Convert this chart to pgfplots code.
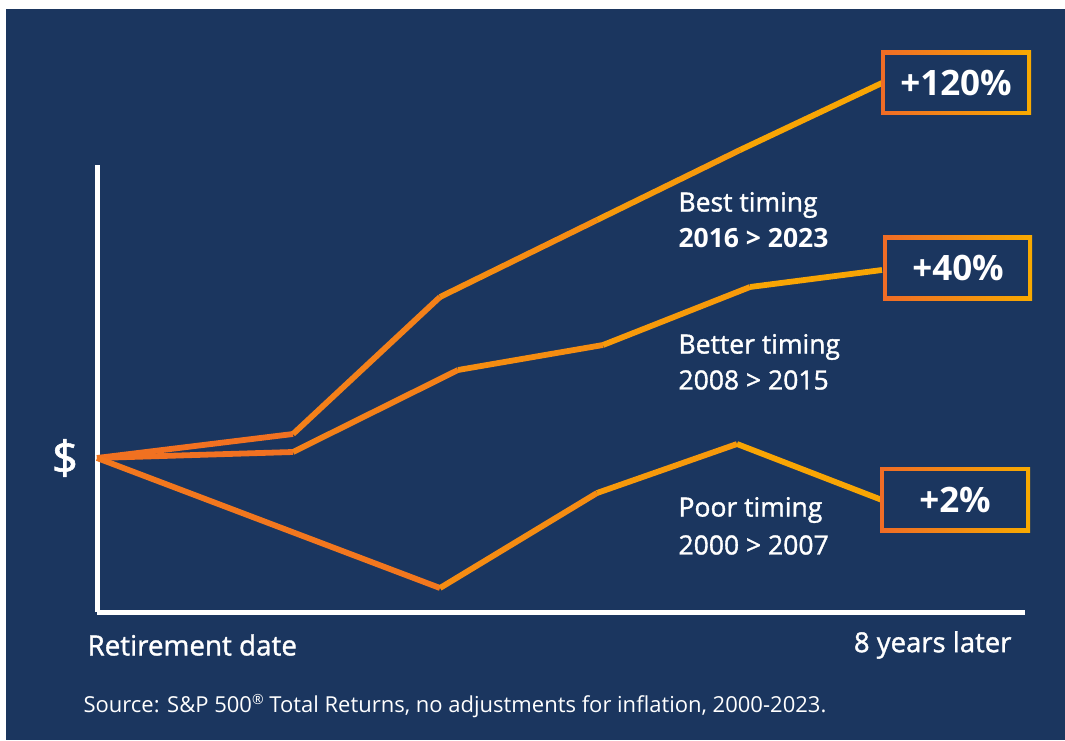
\documentclass[border=0pt]{standalone}
\usepackage{pgfplots}
\pgfplotsset{compat=1.18}
\usepackage{fontspec}
\setmainfont{Open Sans}
\newfontfamily\semi[FakeBold=1.3]{Open Sans}
\definecolor{navy}{RGB}{27,54,95}
\definecolor{og}{RGB}{240,108,38}
\definecolor{amb}{RGB}{248,170,0}
\begin{document}
\begin{tikzpicture}[x=1pt,y=1pt]
\fill[white] (0,0) rectangle (1065,740);
\fill[navy] (6,0) rectangle (1065,731);
\begin{axis}[
  at={(97pt,128pt)}, anchor=south west,
  scale only axis, width=928pt, height=447pt,
  xmin=97, xmax=1025, ymin=128, ymax=575,
  enlargelimits=false, clip=false,
  axis x line=bottom, axis y line=left,
  axis line style={white, line width=5pt, -},
  xtick=\empty, ytick=\empty,
  colormap={ogmap}{rgb255=(240,105,38) rgb255=(249,172,0)},
  point meta min=97, point meta max=900,
]
\addplot[mesh, point meta=x, line width=5.8pt, line join=miter] coordinates {
 (97,282) (293,306) (440,443) (597,520) (740,590) (882,657)};
\addplot[mesh, point meta=x, line width=5.8pt, line join=miter] coordinates {
 (97,282) (293,288) (458,370) (603,395) (750,453) (882,470)};
\addplot[mesh, point meta=x, line width=5.8pt, line join=miter] coordinates {
 (97,282) (440,152) (597,247) (737,296) (882,240)};

% boxes
\shade[left color=og, right color=amb] (881,625) rectangle (1031,689);
\fill[navy] (885,629) rectangle (1027,685);
\node[text=white, font=\fontsize{35}{38}\selectfont\bfseries] at (956,657) {+120\%};
\shade[left color=og, right color=amb] (883,440) rectangle (1032,504);
\fill[navy] (887,444) rectangle (1028,500);
\node[text=white, font=\fontsize{35}{38}\selectfont\bfseries] at (958,472) {+40\%};
\shade[left color=og, right color=amb] (880,208) rectangle (1030,273);
\fill[navy] (884,212) rectangle (1026,269);
\node[text=white, font=\fontsize{35}{38}\selectfont\bfseries] at (955,240) {+2\%};

% labels
\node[text=white, anchor=west, font=\fontsize{26.5}{30}\semi] at (675,535) {Best timing};
\node[text=white, anchor=west, font=\fontsize{26.5}{30}\selectfont\bfseries] at (675,502) {2016 > 2023};
\node[text=white, anchor=west, font=\fontsize{26.5}{30}\semi] at (675,393) {Better timing};
\node[text=white, anchor=west, font=\fontsize{26.5}{30}\semi] at (675,360) {2008 > 2015};
\node[text=white, anchor=west, font=\fontsize{26.5}{30}\semi] at (675,230) {Poor timing};
\node[text=white, anchor=west, font=\fontsize{26.5}{30}\semi] at (675,195) {2000 > 2007};
\node[text=white, font=\fontsize{46}{48}\semi] at (65,282) {\$};
\node[text=white, anchor=west, font=\fontsize{27.8}{30}\semi] at (84,95) {Retirement date};
\node[text=white, anchor=east, font=\fontsize{27.5}{30}\semi] at (1015,95) {8 years later};
\node[text=white, anchor=west, font=\fontsize{22}{24}\selectfont] at (80,34) {Source: S\&P 500{\fontsize{14}{15}\selectfont\raisebox{1.1ex}{\textregistered}} Total Returns, no adjustments for inflation, 2000-2023.};
\end{axis}
\end{tikzpicture}
\end{document}
